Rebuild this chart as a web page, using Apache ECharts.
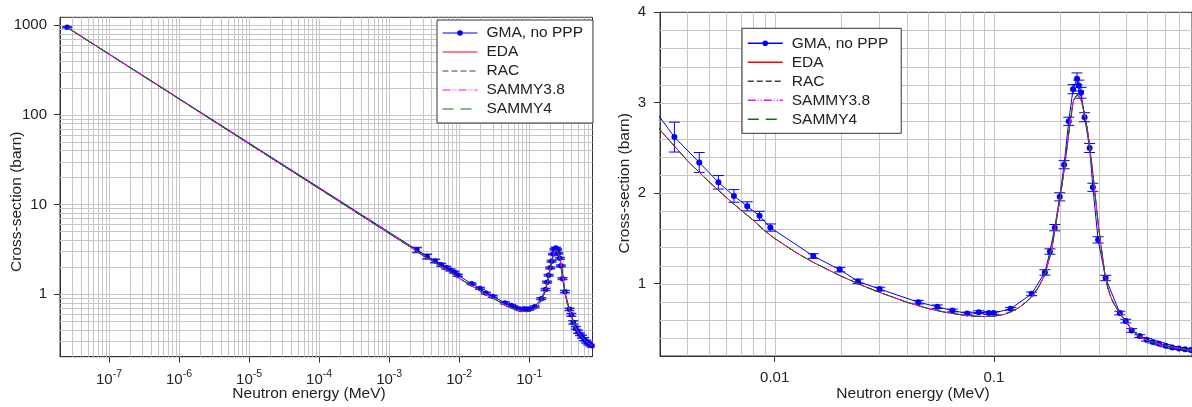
<!DOCTYPE html>
<html><head><meta charset="utf-8">
<script src="https://cdn.jsdelivr.net/npm/echarts@6/dist/echarts.min.js"></script>
<style>html,body{margin:0;padding:0;background:#fff}#c{width:1192px;height:407px}</style>
</head><body><div id="c"></div>
<script>
const seriesNames = ['GMA, no PPP', 'EDA', 'RAC', 'SAMMY3.8', 'SAMMY4'];

// GMA evaluation points (MeV, barn, barn)
const gmaE = [2.53e-8, 0.0025, 0.00349, 0.00453, 0.00554, 0.00652, 0.0075, 0.00853, 0.00956, 0.0150, 0.0198, 0.0240, 0.0301, 0.0452, 0.0552, 0.0646, 0.0755, 0.0853, 0.0947, 0.0997, 0.119, 0.1486, 0.1707, 0.180, 0.1893, 0.1995, 0.2088, 0.2193, 0.2295, 0.2393, 0.2436, 0.2495, 0.259, 0.273, 0.2825, 0.2985, 0.323, 0.375, 0.399, 0.425, 0.462, 0.496, 0.530, 0.566, 0.607, 0.650, 0.697, 0.744, 0.790];
const gmaSigma = [945, 3.10, 2.62, 2.34, 2.12, 1.97, 1.855, 1.75, 1.62, 1.305, 1.155, 1.025, 0.94, 0.795, 0.744, 0.703, 0.670, 0.685, 0.675, 0.675, 0.722, 0.887, 1.124, 1.355, 1.619, 1.96, 2.315, 2.795, 3.15, 3.265, 3.19, 3.11, 2.84, 2.50, 2.065, 1.484, 1.062, 0.675, 0.586, 0.482, 0.42, 0.38, 0.356, 0.335, 0.313, 0.295, 0.282, 0.274, 0.265];
const gmaErr = [10, 0.20, 0.165, 0.11, 0.075, 0.07, 0.05, 0.05, 0.04, 0.025, 0.025, 0.025, 0.02, 0.02, 0.02, 0.015, 0.015, 0.015, 0.015, 0.015, 0.015, 0.02, 0.03, 0.03, 0.035, 0.045, 0.045, 0.045, 0.05, 0.065, 0.06, 0.06, 0.05, 0.05, 0.045, 0.035, 0.03, 0.02, 0.02, 0.02, 0.015, 0.015, 0.012, 0.012, 0.012, 0.01, 0.01, 0.01, 0.01];

// evaluated curves
const curveE = [2.53e-8, 1e-7, 1e-6, 1e-5, 1e-4, 1e-3, 0.002, 0.003, 0.004, 0.005, 0.006, 0.007, 0.008, 0.009, 0.010, 0.0125, 0.015, 0.020, 0.025, 0.030, 0.040, 0.050, 0.060, 0.070, 0.080, 0.090, 0.100, 0.110, 0.120, 0.130, 0.140, 0.150, 0.160, 0.170, 0.180, 0.185, 0.190, 0.200, 0.210, 0.220, 0.230, 0.240, 0.250, 0.260, 0.270, 0.280, 0.290, 0.300, 0.310, 0.320, 0.330, 0.340, 0.350, 0.360, 0.370, 0.380, 0.400, 0.425, 0.450, 0.500, 0.550, 0.600, 0.650, 0.700, 0.750, 0.800];
const edaSigma = [940, 473, 150, 47.3, 15.0, 4.74, 3.35, 2.70, 2.36, 2.13, 1.955, 1.815, 1.70, 1.585, 1.50, 1.345, 1.235, 1.085, 0.98, 0.905, 0.795, 0.725, 0.683, 0.658, 0.642, 0.636, 0.640, 0.657, 0.690, 0.735, 0.795, 0.866, 0.965, 1.09, 1.30, 1.43, 1.61, 1.94, 2.29, 2.69, 3.02, 3.095, 3.03, 2.86, 2.62, 2.30, 1.96, 1.63, 1.36, 1.12, 0.96, 0.86, 0.79, 0.74, 0.69, 0.65, 0.585, 0.49, 0.43, 0.372, 0.34, 0.316, 0.297, 0.283, 0.273, 0.262];
const racSigma = [940, 473, 150, 47.3, 15.0, 4.74, 3.35, 2.70, 2.36, 2.13, 1.955, 1.815, 1.70, 1.585, 1.50, 1.345, 1.235, 1.085, 0.98, 0.905, 0.795, 0.725, 0.683, 0.658, 0.642, 0.636, 0.640, 0.657, 0.690, 0.735, 0.795, 0.866, 0.965, 1.09, 1.30, 1.43, 1.61, 1.94, 2.29, 2.69, 3.02, 3.09, 3.03, 2.86, 2.62, 2.30, 1.96, 1.63, 1.36, 1.12, 0.96, 0.86, 0.79, 0.74, 0.69, 0.65, 0.585, 0.49, 0.43, 0.372, 0.34, 0.316, 0.297, 0.283, 0.273, 0.262];
const sammy38Sigma = [940, 473, 150, 47.3, 15.0, 4.74, 3.35, 2.70, 2.36, 2.13, 1.955, 1.815, 1.70, 1.585, 1.50, 1.345, 1.235, 1.085, 0.98, 0.905, 0.795, 0.725, 0.683, 0.658, 0.642, 0.636, 0.640, 0.657, 0.690, 0.735, 0.795, 0.866, 0.965, 1.09, 1.30, 1.43, 1.62, 1.95, 2.30, 2.71, 3.03, 3.085, 3.02, 2.85, 2.61, 2.29, 1.95, 1.62, 1.35, 1.115, 0.96, 0.86, 0.79, 0.74, 0.69, 0.65, 0.585, 0.49, 0.43, 0.372, 0.34, 0.316, 0.297, 0.283, 0.273, 0.262];
const sammy4Sigma = [940, 473, 150, 47.3, 15.0, 4.74, 3.35, 2.70, 2.36, 2.13, 1.955, 1.815, 1.70, 1.585, 1.50, 1.345, 1.235, 1.085, 0.98, 0.905, 0.795, 0.725, 0.683, 0.658, 0.642, 0.636, 0.640, 0.657, 0.690, 0.735, 0.795, 0.866, 0.965, 1.09, 1.30, 1.43, 1.61, 1.94, 2.29, 2.69, 3.02, 3.095, 3.03, 2.86, 2.62, 2.30, 1.96, 1.63, 1.36, 1.12, 0.96, 0.86, 0.79, 0.74, 0.69, 0.65, 0.585, 0.49, 0.43, 0.372, 0.34, 0.316, 0.297, 0.283, 0.273, 0.262];

// tick labels
const leftXTicks = [1e-7, 1e-6, 1e-5, 1e-4, 1e-3, 1e-2, 1e-1];
const leftYTicks = [1, 10, 100, 1000];
const rightXTicks = [0.01, 0.1];
const rightXLabels = ['0.01', '0.1'];
const rightYTicks = [1, 2, 3, 4];

const FONT = "'Liberation Sans', Arial, sans-serif";
const TXT = '#222';
const GRIDC = '#c6c6c6';
const AXC = '#333';

// grid-line positions (axis structure: 1..9 x decade)
function logLines(min, max) {
  const out = [];
  for (let k = -9; k <= 4; k++) {
    for (let m = 1; m <= 9; m++) {
      const v = parseFloat((m * Math.pow(10, k)).toPrecision(6));
      if (v > min * 1.0001 && v < max * 0.9999) out.push(v);
    }
  }
  return out;
}
function linLines(min, max, step) {
  const out = [];
  for (let i = Math.round(min / step) + 1; i * step < max - 1e-9; i++) out.push(parseFloat((i * step).toFixed(6)));
  return out;
}

const L = { xmin: 2e-8, xmax: 0.8, ymin: 0.2, ymax: 1220 };
const R = { xmin: 0.003, xmax: 0.8, ymin: 0.2, ymax: 4 };

const gmaData = gmaE.map((e, i) => [e, gmaSigma[i]]);
const errData = gmaE.map((e, i) => [e, gmaSigma[i], gmaErr[i]]);
const curve = arr => curveE.map((e, i) => [e, arr[i]]);

function isIn(list, v) { return list.some(t => Math.abs(t - v) / t < 1e-6); }

const supFmt = v => {
  if (!isIn(leftXTicks, v)) return '';
  return '{b|10}{s|' + Math.round(Math.log10(v)) + '}';
};

function axisBase(extra) {
  return Object.assign({
    axisLine: { show: true, onZero: false, lineStyle: { color: AXC, width: 1 } },
    splitLine: { show: false },
    minorTick: { show: false },
    minorSplitLine: { show: false }
  }, extra);
}

const xAxes = [
  axisBase({
    type: 'log', logBase: 10, gridIndex: 0, min: L.xmin, max: L.xmax,
    axisTick: { show: true, inside: false, length: 6, lineStyle: { color: AXC }, customValues: leftXTicks },
    axisLabel: {
      customValues: leftXTicks, margin: 12, formatter: supFmt,
      rich: {
        b: { fontSize: 15, fontFamily: FONT, color: TXT, lineHeight: 19, verticalAlign: 'bottom' },
        s: { fontSize: 10.5, fontFamily: FONT, color: TXT, lineHeight: 12, verticalAlign: 'top' }
      }
    }
  }),
  axisBase({
    type: 'log', logBase: 10, gridIndex: 1, min: R.xmin, max: R.xmax,
    axisTick: { show: true, inside: false, length: 6, lineStyle: { color: AXC }, customValues: rightXTicks },
    axisLabel: {
      customValues: rightXTicks, margin: 12, fontSize: 15, fontFamily: FONT, color: TXT, lineHeight: 19,
      formatter: v => { const i = rightXTicks.findIndex(t => Math.abs(t - v) / t < 1e-6); return i < 0 ? '' : rightXLabels[i]; }
    }
  })
];
const yAxes = [
  axisBase({
    type: 'log', logBase: 10, gridIndex: 0, min: L.ymin, max: L.ymax,
    axisTick: { show: true, inside: false, length: 6, lineStyle: { color: AXC }, customValues: leftYTicks },
    axisLabel: {
      customValues: leftYTicks, margin: 13, fontSize: 15, fontFamily: FONT, color: TXT,
      formatter: v => isIn(leftYTicks, v) ? String(Math.round(v)) : ''
    }
  }),
  axisBase({
    type: 'value', gridIndex: 1, min: R.ymin, max: R.ymax,
    axisTick: { show: true, inside: false, length: 6, lineStyle: { color: AXC }, customValues: rightYTicks },
    axisLabel: {
      customValues: rightYTicks, margin: 14, fontSize: 15, fontFamily: FONT, color: TXT,
      formatter: v => isIn(rightYTicks, v) ? String(Math.round(v)) : ''
    }
  })
];

// grid lines drawn through the axes' own scales
function gridLineSeries(idx, vertical, values, refOther) {
  return {
    type: 'custom', name: '__g' + idx + (vertical ? 'v' : 'h'), xAxisIndex: idx, yAxisIndex: idx, z: 1, silent: true, clip: false,
    data: values.map(v => vertical ? [v, refOther] : [refOther, v]),
    renderItem: (params, api) => {
      const cs = params.coordSys;
      const p = api.coord([api.value(0), api.value(1)]);
      let shape;
      if (vertical) {
        const x = Math.round(p[0]) + 0.5;
        shape = { x1: x, y1: cs.y, x2: x, y2: cs.y + cs.height };
      } else {
        const y = Math.round(p[1]) + 0.5;
        shape = { x1: cs.x, y1: y, x2: cs.x + cs.width, y2: y };
      }
      return { type: 'line', shape: shape, style: { stroke: GRIDC, lineWidth: 1 } };
    }
  };
}

function errSeries(idx, cap, width, color) {
  return {
    type: 'custom', name: '__err' + idx, xAxisIndex: idx, yAxisIndex: idx, data: errData, z: 3, clip: true, silent: true,
    renderItem: (params, api) => {
      const x = api.value(0), y = api.value(1), e = api.value(2);
      const t = api.coord([x, y + e]), b = api.coord([x, y - e]);
      const st = { stroke: color, lineWidth: width };
      return {
        type: 'group', children: [
          { type: 'line', shape: { x1: t[0], y1: t[1], x2: b[0], y2: b[1] }, style: st },
          { type: 'line', shape: { x1: t[0] - cap, y1: t[1], x2: t[0] + cap, y2: t[1] }, style: st },
          { type: 'line', shape: { x1: b[0] - cap, y1: b[1], x2: b[0] + cap, y2: b[1] }, style: st }
        ]
      };
    }
  };
}

function panelSeries(idx, symSize) {
  return [
    { type: 'line', name: seriesNames[0], xAxisIndex: idx, yAxisIndex: idx, data: gmaData, z: 3,
      symbol: 'circle', symbolSize: symSize, showSymbol: true, showAllSymbol: true,
      itemStyle: { color: '#0000ff' }, lineStyle: { color: '#0000ff', width: 1 } },
    { type: 'line', name: seriesNames[1], xAxisIndex: idx, yAxisIndex: idx, data: curve(edaSigma), z: 4,
      symbol: 'none', lineStyle: { color: '#ff0000', width: 1 }, itemStyle: { color: '#ff0000' } },
    { type: 'line', name: seriesNames[2], xAxisIndex: idx, yAxisIndex: idx, data: curve(racSigma), z: 4,
      symbol: 'none', lineStyle: { color: '#404040', width: 1, type: [6, 3] }, itemStyle: { color: '#404040' } },
    { type: 'line', name: seriesNames[3], xAxisIndex: idx, yAxisIndex: idx, data: curve(sammy38Sigma), z: 4,
      symbol: 'none', lineStyle: { color: '#ff00ff', width: 1, type: [8, 2, 1, 2, 1, 2] }, itemStyle: { color: '#ff00ff' } },
    { type: 'line', name: seriesNames[4], xAxisIndex: idx, yAxisIndex: idx, data: curve(sammy4Sigma), z: 4,
      symbol: 'none', lineStyle: { color: '#107010', width: 1, type: [11, 7] }, itemStyle: { color: '#107010' } }
  ];
}

function legendAt(left, top, padding, lineW) {
  return {
    data: seriesNames.map((n, i) => i === 0 ? { name: n } : { name: n, itemStyle: { opacity: 0 } }),
    orient: 'vertical', left: left, top: top, selectedMode: false,
    itemWidth: 35, itemHeight: 7, itemGap: 3, padding: padding,
    backgroundColor: '#ffffff', borderColor: AXC, borderWidth: 1, borderRadius: 0,
    lineStyle: { width: lineW },
    formatter: n => '{t|' + n + '}',
    textStyle: {
      fontSize: 15.5, fontFamily: FONT, color: TXT, lineHeight: 16,
      rich: { t: { fontSize: 15.5, fontFamily: FONT, color: TXT, lineHeight: 16, padding: [0, 0, 0, 4] } }
    }
  };
}

const option = {
  animation: false,
  backgroundColor: '#ffffff',
  grid: [
    { left: 60, top: 17.3, width: 532.5, height: 339.4, show: true, borderColor: AXC, borderWidth: 1, backgroundColor: 'transparent' },
    { left: 660, top: 12.3, right: -4, height: 343.7, show: true, borderColor: AXC, borderWidth: 1, backgroundColor: 'transparent' }
  ],
  xAxis: xAxes,
  yAxis: yAxes,
  legend: [legendAt(437, 20, [5, 10, 6, 5], 1), legendAt(742, 28.3, [7, 13, 6, 5], 1.5)],
  graphic: [
    { type: 'text', x: 16.7, y: 201.7, rotation: Math.PI / 2,
      style: { text: 'Cross-section (barn)', fontSize: 15.5, fontFamily: FONT, fill: TXT, align: 'center', verticalAlign: 'middle' } },
    { type: 'text', x: 624.5, y: 183.3, rotation: Math.PI / 2,
      style: { text: 'Cross-section (barn)', fontSize: 15.5, fontFamily: FONT, fill: TXT, align: 'center', verticalAlign: 'middle' } },
    { type: 'text', x: 309, y: 394, style: { text: 'Neutron energy (MeV)', fontSize: 15.5, fontFamily: FONT, fill: TXT, align: 'center', verticalAlign: 'middle' } },
    { type: 'text', x: 913, y: 394, style: { text: 'Neutron energy (MeV)', fontSize: 15.5, fontFamily: FONT, fill: TXT, align: 'center', verticalAlign: 'middle' } }
  ],
  series: [
    gridLineSeries(0, true, logLines(L.xmin, L.xmax), 1),
    gridLineSeries(0, false, logLines(L.ymin, L.ymax), 1e-3),
    gridLineSeries(1, true, logLines(R.xmin, R.xmax), 1),
    gridLineSeries(1, false, linLines(R.ymin, R.ymax, 0.2), 0.01),
    errSeries(0, 5, 1.5, '#2a2aff'),
    errSeries(1, 5.5, 1, '#0000ff')
  ].concat(panelSeries(0, 5.5), panelSeries(1, 6))
};

const chart = echarts.init(document.getElementById('c'), null, { renderer: 'canvas' });
chart.setOption(option);
</script>
</body></html>
